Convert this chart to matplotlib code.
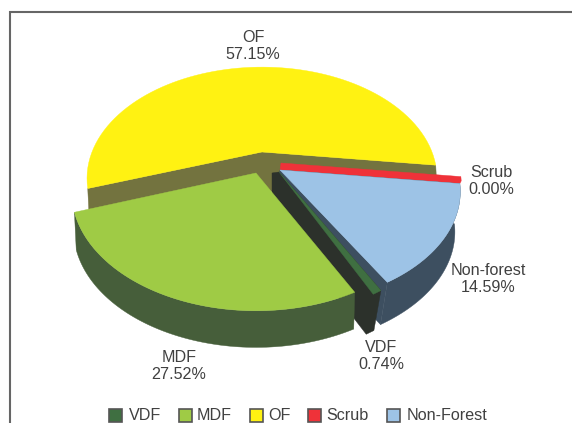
import matplotlib
matplotlib.use('Agg')
import matplotlib.pyplot as plt
from matplotlib.patches import Polygon, Rectangle
import numpy as np

plt.rcParams['font.family'] = ['Liberation Sans', 'DejaVu Sans']

# values from the labels, going clockwise from the VDF slice
names = ['VDF', 'MDF', 'OF', 'Scrub', 'Non-forest']
legend_names = ['VDF', 'MDF', 'OF', 'Scrub', 'Non-Forest']
percent = [0.74, 27.52, 57.15, 0.00, 14.59]

top_colors = ['#3F6F41', '#9FCB45', '#FFF212', '#EF3239', '#9DC3E6']
wall_colors = ['#2C312B', '#465E3A', '#73733F', '#EF3239', '#3D4F60']
text_color = '#404040'

# pie look: apex in pixels, width, height, perspective for each slice
apex = {'VDF': (279, 172), 'MDF': (256, 173), 'OF': (262, 152),
        'Scrub': (281, 163), 'Non-forest': (280, 170)}
shape = {'VDF': (168, 115, 0.19), 'MDF': (182, 116, 0.158), 'OF': (170, 105, 0.237),
         'Scrub': (177, 109, 0.19), 'Non-forest': (177, 109, 0.19)}
drop = {'VDF': (-7, 40), 'MDF': (0, 38), 'OF': (1, 21), 'Scrub': (0, 0), 'Non-forest': (-9, 40)}
start_angle = -7.0
scrub_sliver = 2.2  # 0.00% slice is still drawn as a thin red edge


def rim(name, a0, a1, scale=1.0, shift=(0, 0)):
    # outer edge of a slice from angle a0 to a1, in pixels
    t = np.radians(np.linspace(a0, a1, 80))
    w, h, k = shape[name]
    u, v = np.cos(t), np.sin(t)
    d = 1 + k * v
    x = apex[name][0] + shift[0] + scale * w * u / d
    y = apex[name][1] + shift[1] - scale * h * v / d
    return np.column_stack([x, y])


# slice angles, clockwise from the right side
angles = {}
a = start_angle
for i in [4, 0, 1, 2]:
    sweep = percent[i] * 3.6
    angles[names[i]] = (a, a - sweep)
    a -= sweep
angles['Scrub'] = (start_angle, start_angle - scrub_sliver)

fig, ax = plt.subplots(figsize=(5.72, 4.23), dpi=100)
ax.set_position([0, 0, 1, 1])
ax.set_xlim(0, 572)
ax.set_ylim(423, 0)
ax.axis('off')

# frame, open on the right and at the bottom
ax.plot([10, 10, 572], [423, 12, 12], color='#666666', lw=1.5, solid_joinstyle='miter')


def poly(points, color, z):
    ax.add_patch(Polygon(points, closed=True, fc=color, ec=color, lw=0.3, zorder=z))


def top(name, color, z):
    a0, a1 = angles[name]
    poly(np.vstack([[apex[name]], rim(name, a0, a1)]), color, z)


# OF: back walls as one shape, then top
a0, a1 = angles['OF']
p = apex['OF']
dx, dy = drop['OF']
left_end = rim('OF', a1, a1)[0]
right_end = rim('OF', a0, a0)[0]
poly([left_end, (left_end[0] + dx, left_end[1] + dy), (p[0] + dx, p[1] + 40),
      (right_end[0] + dx, right_end[1] + dy), right_end, p], wall_colors[2], 1)
top('OF', top_colors[2], 2)

# scrub: thin red band between its own edge and the non-forest edge
a0, a1 = angles['Scrub']
poly(np.vstack([[apex['Scrub']], rim('Scrub', a0, a1), rim('Non-forest', a0, a0), [apex['Non-forest']]]),
     top_colors[3], 3)

# non-forest: outer and cut wall as one shape, then top
a0, a1 = angles['Non-forest']
dx, dy = drop['Non-forest']
upper = rim('Non-forest', a0, a1)
lower = rim('Non-forest', a0, a1, scale=1.02, shift=(dx, dy))
p = apex['Non-forest']
poly(np.vstack([[p], upper, lower[::-1]]), wall_colors[4], 4)
poly([p, upper[-1], lower[-1], (p[0] + dx, p[1] + dy)], wall_colors[4], 4)
top('Non-forest', top_colors[4], 5)

# VDF: dark wall then thin top
a0, a1 = angles['VDF']
dx, dy = drop['VDF']
upper = rim('VDF', a0, a1)
lower = rim('VDF', a0, a1, shift=(dx, dy))
p = apex['VDF']
poly([(p[0] - 7, p[1] + 1), p, upper[0], lower[0], lower[-1], (p[0] + dx, p[1] + dy)], wall_colors[0], 6)
top('VDF', top_colors[0], 7)

# MDF: outer wall then top
a0, a1 = angles['MDF']
dx, dy = drop['MDF']
upper = rim('MDF', a0, a1)
lower = rim('MDF', a0, a1, scale=0.99, shift=(dx, dy))
poly(np.vstack([upper, lower[::-1]]), wall_colors[1], 8)
top('MDF', top_colors[1], 9)

# data labels
label_pos = {'OF': (253, 46), 'Scrub': (491, 181), 'Non-forest': (488, 279),
             'VDF': (381, 356), 'MDF': (179, 366)}
for n, v in zip(names, percent):
    ax.text(label_pos[n][0], label_pos[n][1], '%s\n%.2f%%' % (n, v), color=text_color,
            fontsize=11.6, ha='center', va='center', linespacing=1.17, zorder=10)

# legend
swatch_x = [109, 179, 250, 308, 387]
text_x = [129, 197, 268, 326, 407]
for sx, tx, n, c in zip(swatch_x, text_x, legend_names, top_colors):
    ax.add_patch(Rectangle((sx, 409.5), 13, 13, fc=c, ec='#555555', lw=1.2, zorder=10))
    ax.text(tx, 416, n, color=text_color, fontsize=11.6, ha='left', va='center', zorder=10)

fig.savefig('out.png', dpi=100)
